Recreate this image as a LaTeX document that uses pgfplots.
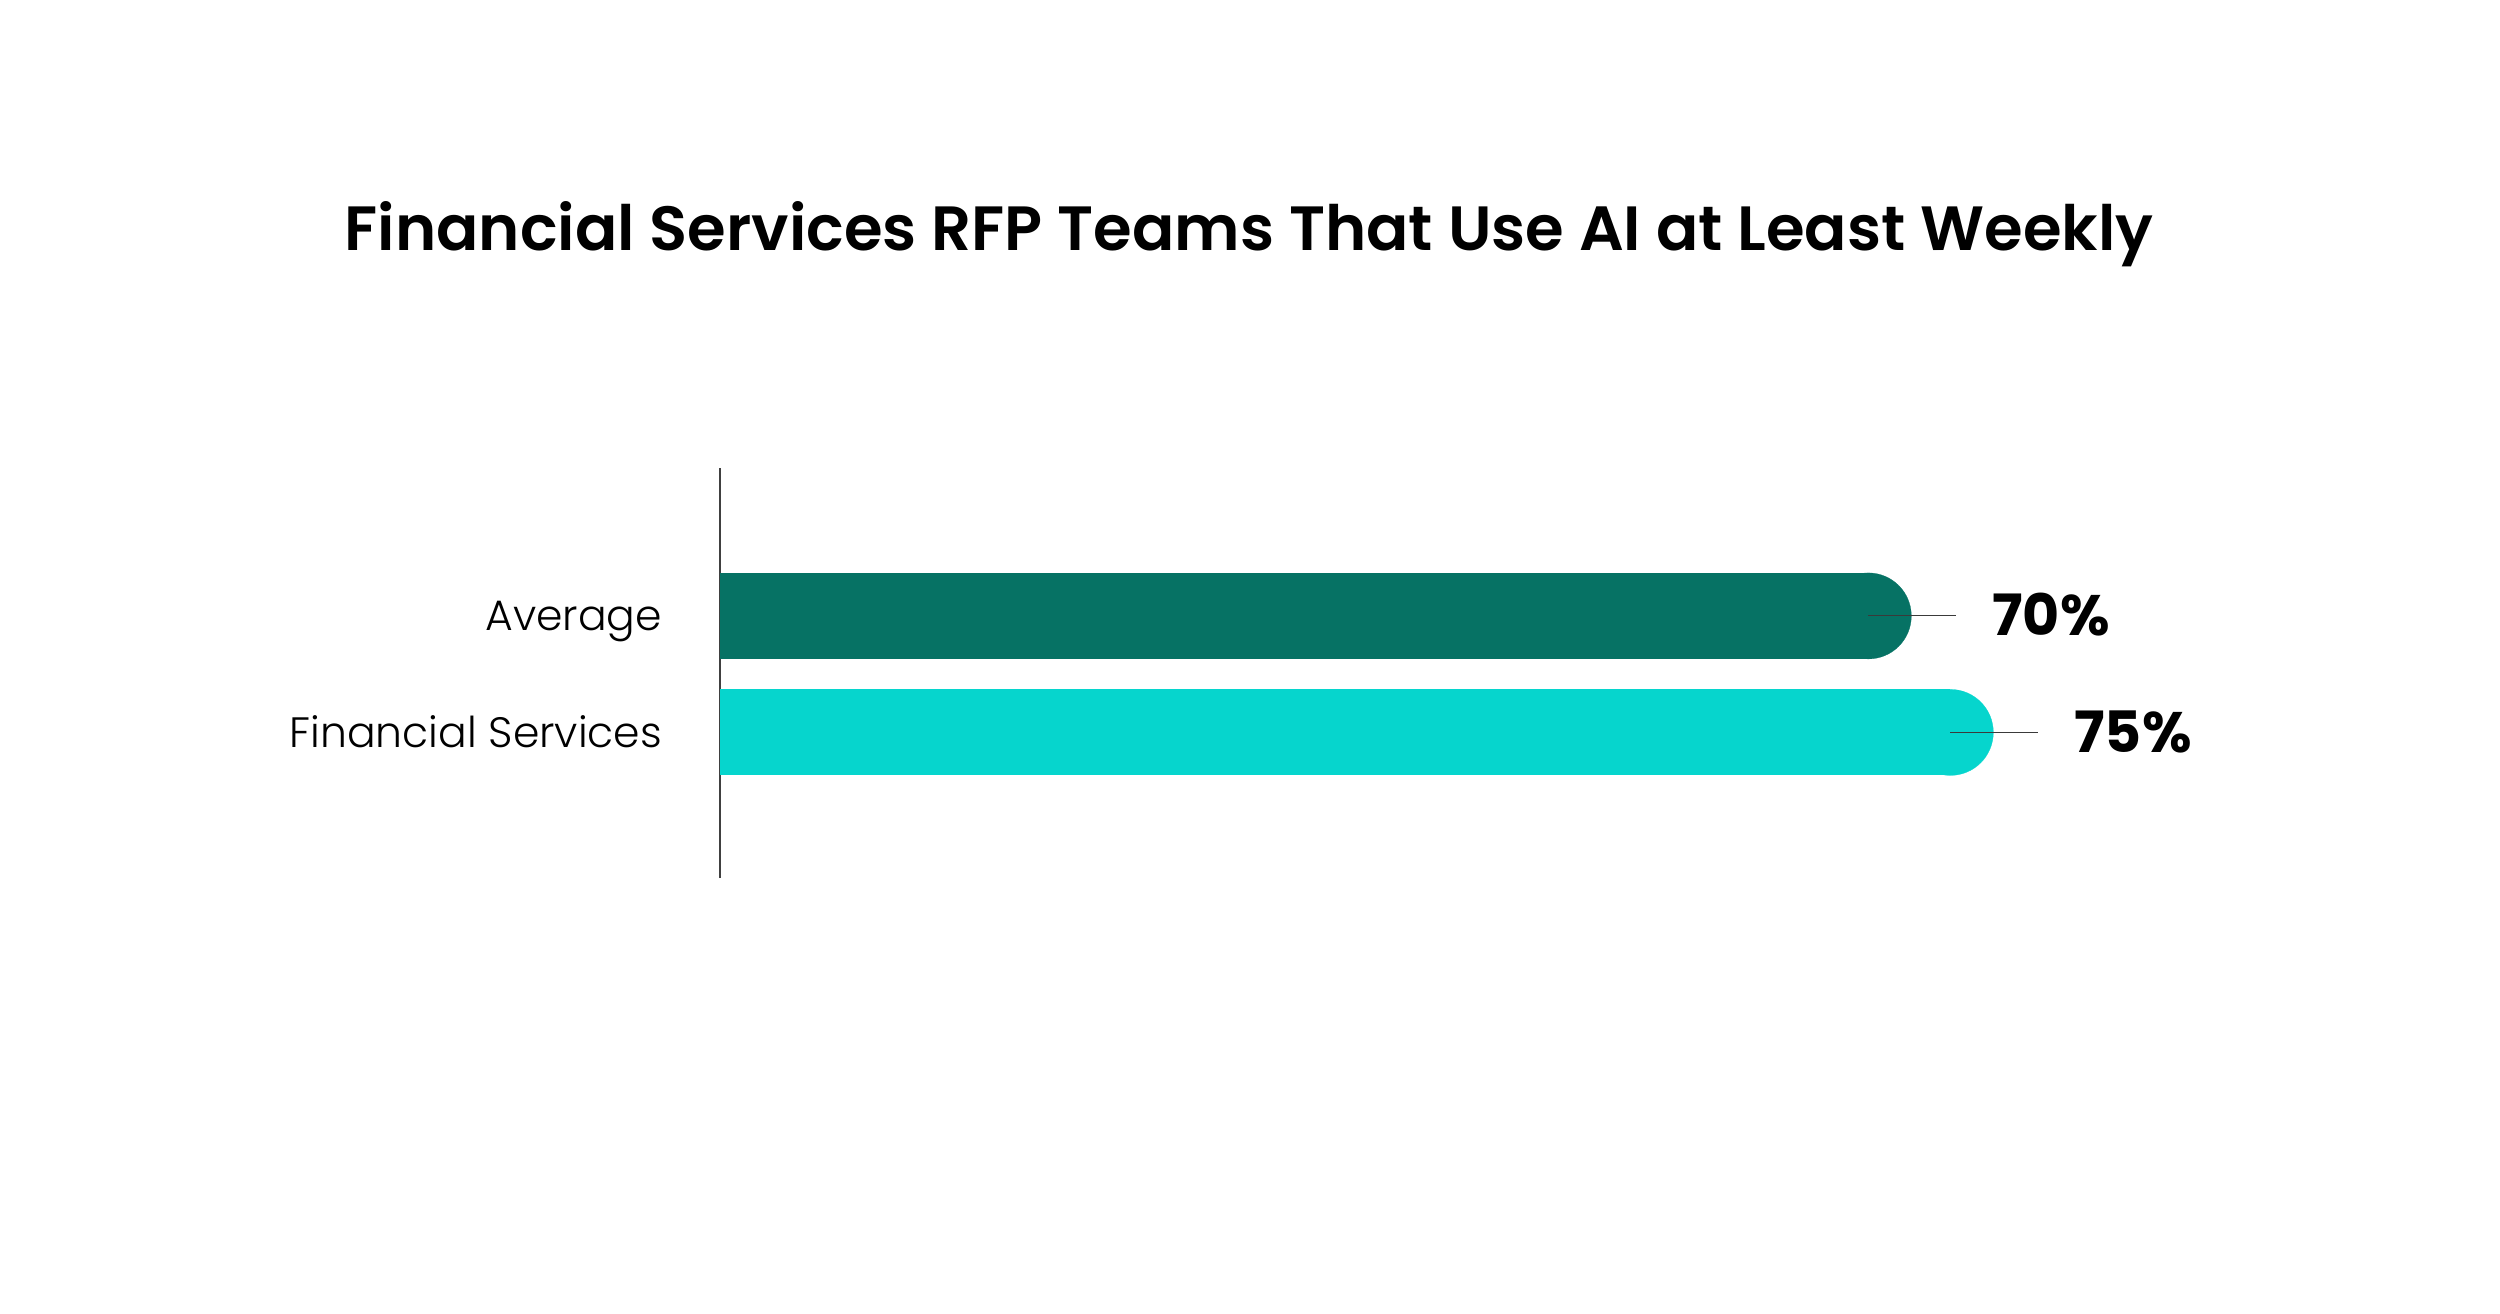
\documentclass[border=0pt]{standalone}
\usepackage{pgfplots}
\pgfplotsset{compat=1.18}
\usepackage{fontspec}
\setmainfont{Poppins}
\newfontfamily\poplight{Poppins}[UprightFont={* Light}]
\newfontfamily\popsemi{Poppins}[UprightFont={* SemiBold}]

\definecolor{avgcol}{HTML}{067264}
\definecolor{fincol}{HTML}{06D5CD}
\definecolor{leader}{HTML}{3A3A3A}

\begin{document}
\begin{tikzpicture}
\useasboundingbox (0,0) rectangle (500pt,262.6pt);
\node[font=\popsemi\fontsize{12.5}{12.5}\selectfont] at (249.8pt,215.8pt)
  {Financial Services RFP Teams That Use AI at Least Weekly};
\begin{axis}[
    at={(144pt,87pt)}, anchor=south west,
    scale only axis, width=329.4pt, height=82pt,
    xmin=0, xmax=100.4, ymin=-1.25, ymax=2.27,
    hide x axis, axis y line*=left,
    y axis line style={color=black!75, line width=0.4pt},
    ytick={0,1}, yticklabels={Financial Services,Average},
    major tick length=0pt,
    yticklabel style={font=\poplight\fontsize{8.5}{8.5}\selectfont,
      text height=5.9pt, text depth=0pt, inner sep=0pt, xshift=-11.4pt},
    xbar, bar width=17.2pt, clip=false,
    point meta=x,
    /pgf/number format/assume math mode=true,
    nodes near coords={\textcolor{leader}{\rule[3.9pt]{17.6pt}{0.25pt}}\hspace{7.2pt}{\fontsize{11.4}{11.4}\selectfont\bfseries\pgfmathprintnumber{\pgfplotspointmeta}\%}},
    every node near coord/.append style={anchor=west, inner sep=0pt,
      text height=8pt, text depth=0pt, text=black},
]
% Average
\addplot[xbar, bar shift=0pt, color=avgcol, fill=avgcol, draw=none,
  mark=*, mark size=8.6pt, mark options={fill=avgcol, draw=avgcol, line width=0.05pt}]
  coordinates {(70,1)};
% Financial Services
\addplot[xbar, bar shift=0pt, color=fincol, fill=fincol, draw=none,
  mark=*, mark size=8.6pt, mark options={fill=fincol, draw=fincol, line width=0.05pt}]
  coordinates {(75,0)};
\end{axis}
\end{tikzpicture}
\end{document}
